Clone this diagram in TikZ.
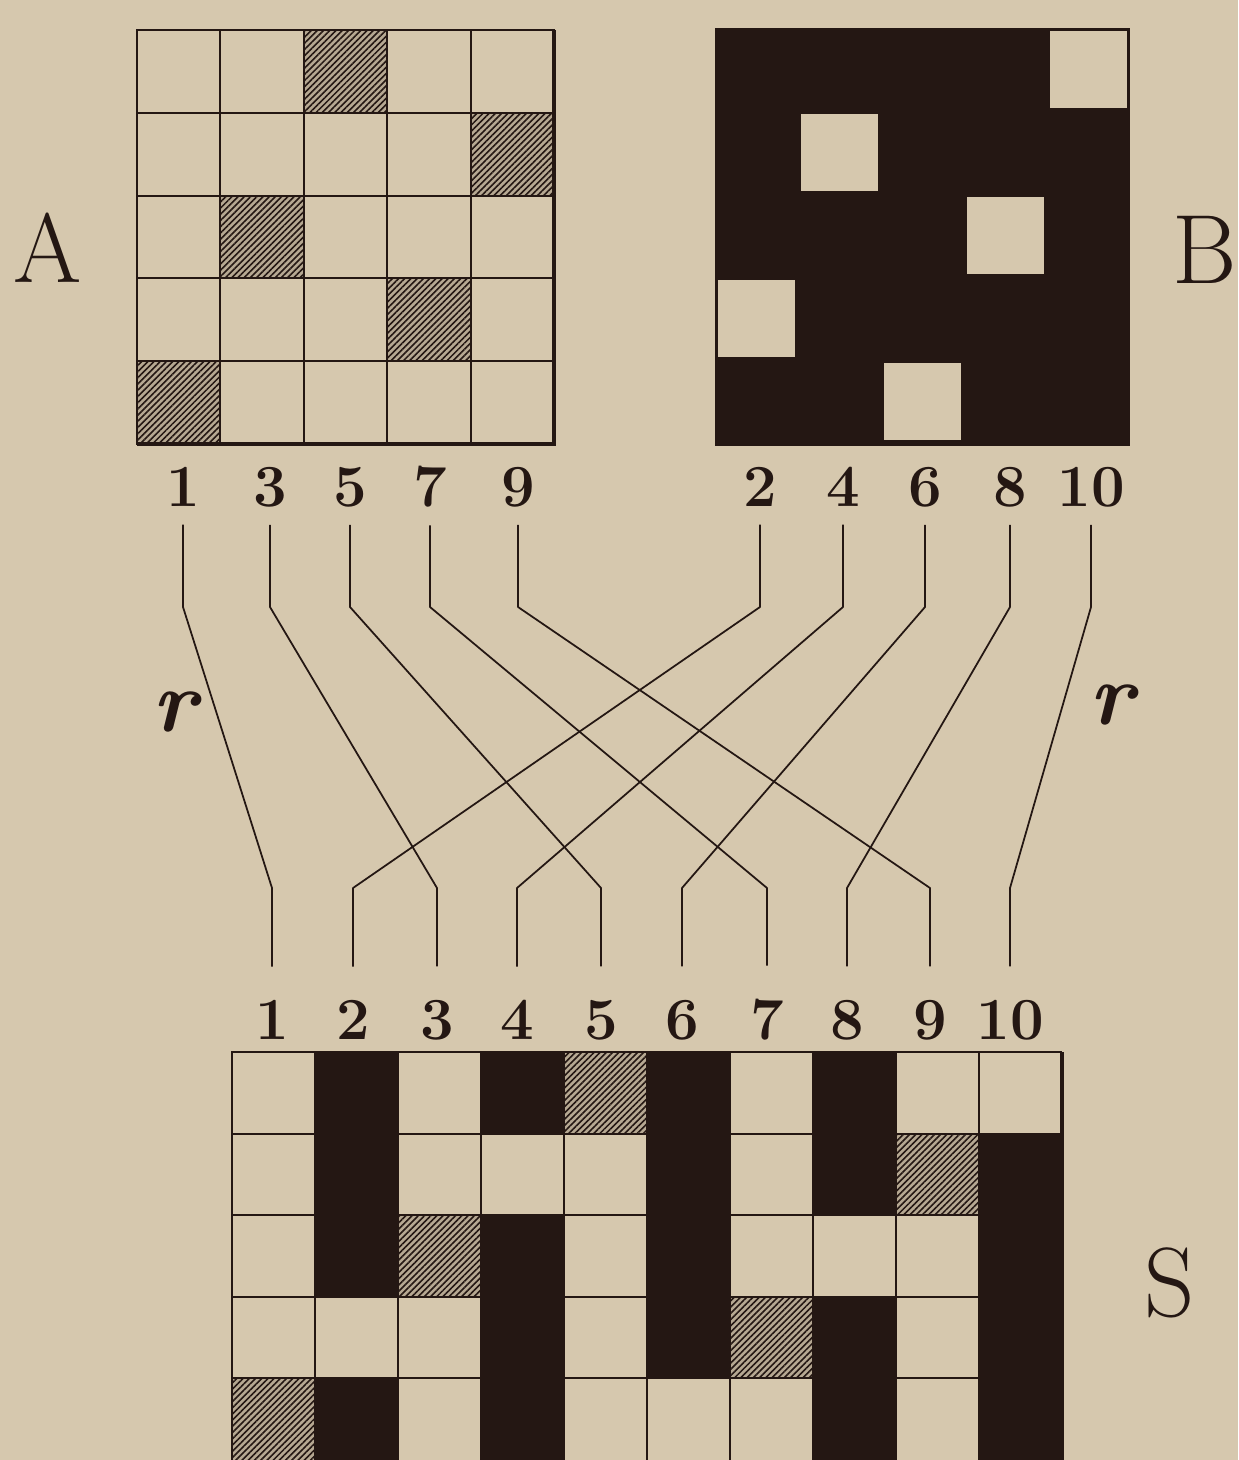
\documentclass[tikz,border=0pt]{standalone}
\usetikzlibrary{patterns.meta}
\definecolor{paper}{RGB}{214,200,174}
\definecolor{ink}{RGB}{36,23,19}
\begin{document}
\begin{tikzpicture}[
    x=0.2mm, y=-0.2mm,
    digit/.style={font=\fontsize{34}{40}\selectfont\bfseries, text=ink, inner sep=0pt},
    letter/.style={font=\fontsize{56}{60}\selectfont, text=ink, inner sep=0pt},
    twist/.style={font=\fontsize{50}{56}\selectfont\bfseries\itshape, text=ink, inner sep=0pt},
    wire/.style={draw=ink, line width=1pt, line join=round},
    gridline/.style={draw=ink, line width=1.2pt},
    hatch/.style={fill=ink!18!paper, postaction={pattern={Lines[angle=45, distance=2.5pt, line width=0.9pt]}, pattern color=ink}},
    blackcell/.style={fill=ink}
]

% Paper
\useasboundingbox (0,0) rectangle (1238,1460);
\fill[paper] (0,0) rectangle (1238,1460);

% Pattern A
\foreach \r/\c in {0/2,1/4,2/1,3/3,4/0}
  \fill[hatch] (137+83.4*\c,30+82.8*\r) rectangle ++(83.4,82.8);
\foreach \i in {1,...,4} {
  \draw[gridline] (137+83.4*\i,30) -- ++(0,414);
  \draw[gridline] (137,30+82.8*\i) -- ++(417,0);
}
\draw[gridline] (137,30) rectangle (554,444);
\draw[ink, line width=2.6pt] (554,30) -- (554,444) -- (137,444);

% Pattern B
\fill[ink] (715,28) rectangle (1130,446);
\foreach \r/\c in {0/4,1/1,2/3,3/0,4/2}
  \fill[paper] (718+83*\c,31+83*\r) rectangle ++(77,77);

% Pattern S
\foreach \r/\c in {4/0,2/2,0/4,3/6,1/8}
  \fill[hatch] (232+83*\c,1052+81.6*\r) rectangle ++(83,81.6);
\foreach \c/\w in {1/3,3/1,5/4,7/2,9/0}
  \foreach \r in {0,...,4} {
    \ifnum\r=\w\else
      \fill[blackcell] (231+83*\c,1051+81.6*\r) rectangle ++(85,83.6);
    \fi
  }
\foreach \i in {1,...,9}
  \draw[gridline] (232+83*\i,1052) -- ++(0,408);
\foreach \i in {1,...,4}
  \draw[gridline] (232,1052+81.6*\i) -- ++(830,0);
\draw[gridline] (232,1460) -- (232,1052) -- (1062,1052);
\draw[ink, line width=2.6pt] (1062,1052) -- (1062,1460);

% Letters
\node[letter] (A) at (48,248) {A};
\node[letter] (B) at (1205,250) {B};
\node[letter] (S) at (1170,1283) {S};
\node[twist] (rl) at (175,712) {r};
\node[twist] (rr) at (1112,705) {r};

% Threads of A
\node[digit] (a1) at (183,487) {1};
\node[digit] (a3) at (270,487) {3};
\node[digit] (a5) at (350,487) {5};
\node[digit] (a7) at (430,487) {7};
\node[digit] (a9) at (518,487) {9};

% Threads of B
\node[digit] (b2) at (760,487) {2};
\node[digit] (b4) at (843,487) {4};
\node[digit] (b6) at (925,487) {6};
\node[digit] (b8) at (1010,487) {8};
\node[digit] (b10) at (1091,487) {10};

% Threads of S
\node[digit] (s1) at (272,1020) {1};
\node[digit] (s2) at (353,1020) {2};
\node[digit] (s3) at (437,1020) {3};
\node[digit] (s4) at (517,1020) {4};
\node[digit] (s5) at (601,1020) {5};
\node[digit] (s6) at (682,1020) {6};
\node[digit] (s7) at (767,1020) {7};
\node[digit] (s8) at (847,1020) {8};
\node[digit] (s9) at (930,1020) {9};
\node[digit] (s10) at (1010,1020) {10};

% Wires
\draw[wire] ([yshift=-10pt]a1.south) -- (a1 |- 0,607) -- (s1 |- 0,888) -- ([yshift=19pt]s1.north);
\draw[wire] ([yshift=-10pt]a3.south) -- (a3 |- 0,607) -- (s3 |- 0,888) -- ([yshift=19pt]s3.north);
\draw[wire] ([yshift=-10pt]a5.south) -- (a5 |- 0,607) -- (s5 |- 0,888) -- ([yshift=19pt]s5.north);
\draw[wire] ([yshift=-10pt]a7.south) -- (a7 |- 0,607) -- (s7 |- 0,888) -- ([yshift=19pt]s7.north);
\draw[wire] ([yshift=-10pt]a9.south) -- (a9 |- 0,607) -- (s9 |- 0,888) -- ([yshift=19pt]s9.north);
\draw[wire] ([yshift=-10pt]b2.south) -- (b2 |- 0,607) -- (s2 |- 0,888) -- ([yshift=19pt]s2.north);
\draw[wire] ([yshift=-10pt]b4.south) -- (b4 |- 0,607) -- (s4 |- 0,888) -- ([yshift=19pt]s4.north);
\draw[wire] ([yshift=-10pt]b6.south) -- (b6 |- 0,607) -- (s6 |- 0,888) -- ([yshift=19pt]s6.north);
\draw[wire] ([yshift=-10pt]b8.south) -- (b8 |- 0,607) -- (s8 |- 0,888) -- ([yshift=19pt]s8.north);
\draw[wire] ([yshift=-10pt]b10.south) -- (b10 |- 0,607) -- (s10 |- 0,888) -- ([yshift=19pt]s10.north);

\end{tikzpicture}
\end{document}
